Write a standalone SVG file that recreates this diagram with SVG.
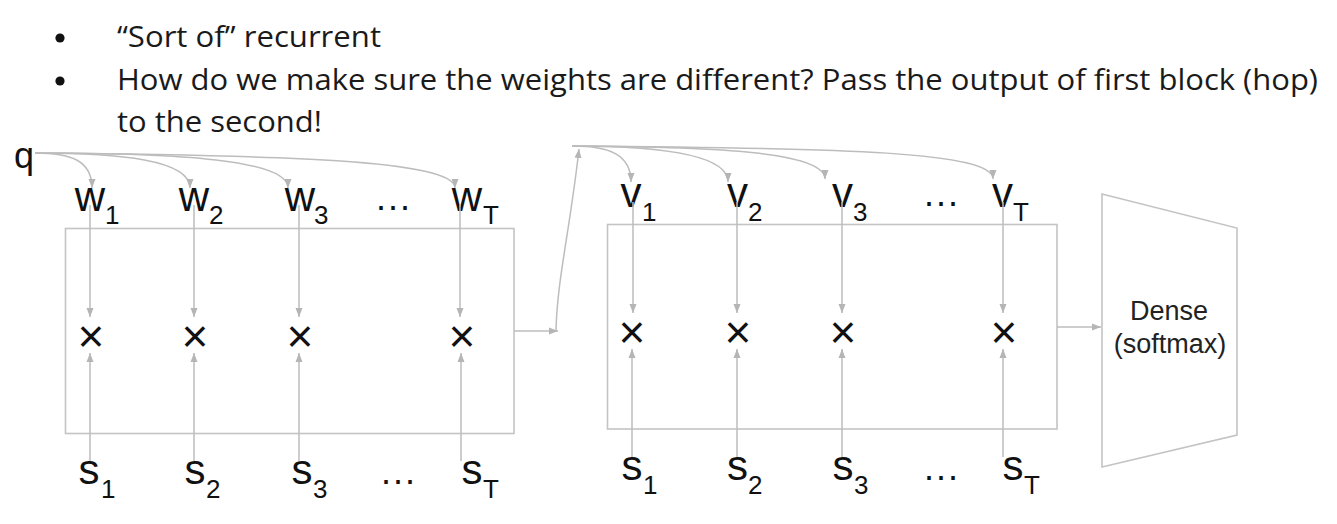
<svg xmlns="http://www.w3.org/2000/svg" width="1337" height="524" viewBox="0 0 1337 524">
<defs>
<style>
.t{font-family:"Open Sans","Liberation Sans",sans-serif;font-size:30px;fill:#1a1a1a}
.lb{font-family:"Liberation Sans",Arial,sans-serif;font-size:42px;fill:#111}
.sb{font-family:"Liberation Sans",Arial,sans-serif;font-size:26px;fill:#111}
.dt{font-family:"Liberation Sans",Arial,sans-serif;font-size:36px;fill:#111;letter-spacing:2px}
.x{font-family:"Liberation Sans",Arial,sans-serif;font-size:46px;fill:#111;text-anchor:middle}
.dn{font-family:"Liberation Sans",Arial,sans-serif;font-size:27px;fill:#222;text-anchor:middle}
.box{fill:none;stroke:#c4c4c4;stroke-width:1.6}
.c{fill:none;stroke:#bdbdbd;stroke-width:1.5;marker-end:url(#ah)}
</style>
<marker id="ah" markerUnits="userSpaceOnUse" markerWidth="10" markerHeight="10" viewBox="0 0 10 10" refX="9" refY="5" orient="auto">
<path d="M0,1.5 L9,5 L0,8.5 Z" fill="#b5b5b5"/>
</marker>
</defs>
<rect width="1337" height="524" fill="#fff"/>

<g id="bullets">
<circle cx="60" cy="38" r="4.6" fill="#111"/>
<circle cx="60" cy="81" r="4.6" fill="#111"/>
<text class="t" x="117" y="47" textLength="264" lengthAdjust="spacingAndGlyphs">“Sort of” recurrent</text>
<text class="t" x="117" y="90" textLength="1201" lengthAdjust="spacingAndGlyphs">How do we make sure the weights are different? Pass the output of first block (hop)</text>
<text class="t" x="117" y="132" textLength="205" lengthAdjust="spacingAndGlyphs">to the second!</text>
</g>

<g id="q"><text class="lb" style="font-size:36px" x="14" y="168">q</text></g>

<g id="block1">
<rect class="box" x="65.5" y="228.5" width="448.5" height="205"/>
<text class="lb" text-anchor="middle" x="90" y="211">w</text><text class="sb" x="105" y="224">1</text>
<text class="lb" text-anchor="middle" x="194" y="211">w</text><text class="sb" x="209" y="224">2</text>
<text class="lb" text-anchor="middle" x="300" y="211">w</text><text class="sb" x="314" y="224">3</text>
<text class="dt" x="376" y="210">...</text>
<text class="lb" text-anchor="middle" x="467" y="211">w</text><text class="sb" x="483" y="224">T</text>
<text class="x" x="91" y="352">×</text>
<text class="x" x="195" y="352">×</text>
<text class="x" x="300" y="352">×</text>
<text class="x" x="462" y="352">×</text>
<text class="lb" text-anchor="middle" x="89" y="484">s</text><text class="sb" x="101" y="498">1</text>
<text class="lb" text-anchor="middle" x="195" y="484">s</text><text class="sb" x="206" y="498">2</text>
<text class="lb" text-anchor="middle" x="302" y="484">s</text><text class="sb" x="313" y="498">3</text>
<text class="dt" x="381" y="484">...</text>
<text class="lb" text-anchor="middle" x="472" y="484">s</text><text class="sb" x="483" y="498">T</text>
</g>

<g id="block2">
<rect class="box" x="607.5" y="224.5" width="449.5" height="204.5"/>
<text class="lb" text-anchor="middle" x="631" y="207">v</text><text class="sb" x="642" y="221">1</text>
<text class="lb" text-anchor="middle" x="737.5" y="207">v</text><text class="sb" x="748" y="221">2</text>
<text class="lb" text-anchor="middle" x="842.5" y="207">v</text><text class="sb" x="853" y="221">3</text>
<text class="dt" x="924" y="206">...</text>
<text class="lb" text-anchor="middle" x="1002.5" y="207">v</text><text class="sb" x="1013" y="221">T</text>
<text class="x" x="632" y="348">×</text>
<text class="x" x="738" y="348">×</text>
<text class="x" x="843" y="348">×</text>
<text class="x" x="1004" y="348">×</text>
<text class="lb" text-anchor="middle" x="632" y="480">s</text><text class="sb" x="643" y="494">1</text>
<text class="lb" text-anchor="middle" x="737.5" y="480">s</text><text class="sb" x="748" y="494">2</text>
<text class="lb" text-anchor="middle" x="843" y="480">s</text><text class="sb" x="854" y="494">3</text>
<text class="dt" x="924" y="480">...</text>
<text class="lb" text-anchor="middle" x="1013" y="480">s</text><text class="sb" x="1024" y="494">T</text>
</g>

<g id="dense">
<polygon points="1102,194 1237,228 1237,435 1102,467" fill="none" stroke="#c4c4c4" stroke-width="1.6"/>
<text class="dn" x="1169" y="320">Dense</text>
<text class="dn" x="1170" y="353">(softmax)</text>
</g>

<g id="connectors">
<path class="c" d="M35,153 C70,153 92,160 92,188"/>
<path class="c" d="M35,153 C120,153 190,160 190,188"/>
<path class="c" d="M35,153 C180,153 288,160 288,188"/>
<path class="c" d="M35,153 C280,155 455,160 455,188"/>
<path class="c" d="M90,205 V317"/>
<path class="c" d="M194,205 V317"/>
<path class="c" d="M299,205 V317"/>
<path class="c" d="M460,205 V317"/>
<path class="c" d="M90,461 V353"/>
<path class="c" d="M194,461 V353"/>
<path class="c" d="M299,461 V353"/>
<path class="c" d="M461,461 V353"/>
<path class="c" d="M514,331 H558"/>
<path class="c" d="M556,331 C557,280 570,230 579,149"/>
<path class="c" d="M572,146 C610,146 631,155 631,182"/>
<path class="c" d="M572,146 C660,146 728,155 728,182"/>
<path class="c" d="M572,146 C720,147 825,152 825,179"/>
<path class="c" d="M572,146 C850,148 993,152 993,179"/>
<path class="c" d="M633,202 V313"/>
<path class="c" d="M737,202 V313"/>
<path class="c" d="M842,202 V313"/>
<path class="c" d="M1003,202 V313"/>
<path class="c" d="M632,457 V349"/>
<path class="c" d="M737,457 V349"/>
<path class="c" d="M842,457 V349"/>
<path class="c" d="M1003,457 V349"/>
<path class="c" d="M1057,327 H1101"/>
</g>
</svg>
